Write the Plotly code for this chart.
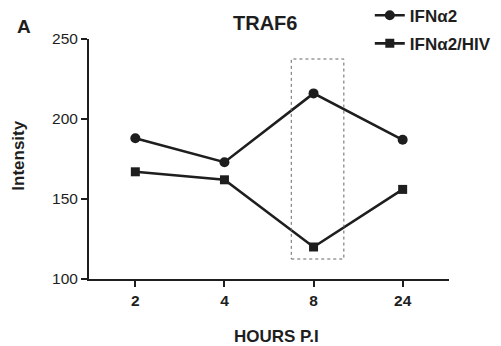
import plotly.graph_objects as go

hours = ["2", "4", "8", "24"]
ifn = [188, 173, 216, 187]
ifn_hiv = [167, 162, 120, 156]
box_x = [1.75, 2.34]
box_y = [112.5, 237.5]

ink = "#1e1e1e"
font = dict(family="Liberation Sans, Arial, sans-serif", size=15, color=ink)

fig = go.Figure()
fig.add_trace(go.Scatter(x=hours, y=ifn, mode="lines+markers", name="<b>IFNα2</b>", legendgroup="a",
                         line=dict(color=ink, width=2.6), marker=dict(symbol="circle", size=10, color=ink)))
fig.add_trace(go.Scatter(x=hours, y=ifn_hiv, mode="lines+markers", name="<b>IFNα2/HIV</b>", legendgroup="b",
                         line=dict(color=ink, width=2.6), marker=dict(symbol="square", size=9, color=ink)))

fig.add_shape(type="rect", xref="x", yref="y", x0=box_x[0], x1=box_x[1], y0=box_y[0], y1=box_y[1],
              line=dict(color="#666", width=1, dash="dot"))

# page body has an 8px default margin, so the figure is sized/placed to compensate
fig.update_layout(
    width=493, height=338,
    margin=dict(l=81, r=52, t=31, b=67, autoexpand=False),
    plot_bgcolor="white", paper_bgcolor="white",
    font=font,
    showlegend=True,
    legend=dict(x=0.78, y=1.172, xanchor="left", yanchor="top", bgcolor="rgba(0,0,0,0)",
                font=dict(size=17), itemwidth=30, tracegroupgap=3),
    annotations=[
        dict(text="<b>TRAF6</b>", x=0.489, y=1.065, xref="paper", yref="paper", showarrow=False,
             font=dict(size=20), xanchor="center", yanchor="middle"),
        dict(text="<b>A</b>", x=-0.18, y=1.05, xref="paper", yref="paper", showarrow=False,
             font=dict(size=19), xanchor="center", yanchor="middle"),
        dict(text="<b>HOURS P.I</b>", x=0.52, y=-0.2375, xref="paper", yref="paper", showarrow=False,
             font=dict(size=17), xanchor="center", yanchor="middle"),
        dict(text="<b>Intensity</b>", x=-0.198, y=0.5125, xref="paper", yref="paper", showarrow=False,
             font=dict(size=17), xanchor="center", yanchor="middle", textangle=-90),
    ],
)
fig.update_xaxes(type="category", range=[-0.52, 3.52], showline=True, linecolor=ink, linewidth=2,
                 ticks="outside", tickcolor=ink, tickwidth=2, ticklen=6,
                 tickfont=dict(size=15.5), showgrid=False, zeroline=False,
                 tickprefix="<b>", ticksuffix="</b>")
fig.update_yaxes(range=[100, 250], tickvals=[100, 150, 200, 250], showline=True, linecolor=ink, linewidth=2,
                 ticks="outside", tickcolor=ink, tickwidth=2, ticklen=6,
                 tickfont=dict(size=15.5), showgrid=False, zeroline=False,
                 tickprefix="<b>", ticksuffix="</b>")
fig.update_traces(cliponaxis=False)

fig.write_html("out.html")
